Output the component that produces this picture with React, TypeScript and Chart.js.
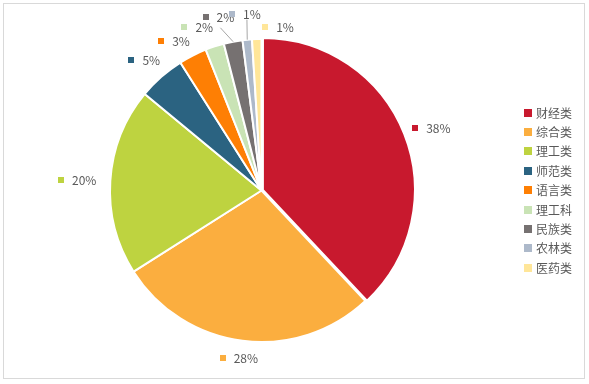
import React, { useEffect, useRef } from "react";
import { Chart, registerables } from "chart.js";

Chart.register(...registerables);

const categories = ["财经类", "综合类", "理工类", "师范类", "语言类", "理工科", "民族类", "农林类", "医药类"];
const values = [38, 28, 20, 5, 3, 2, 2, 1, 1];
const pctLabels = ["38%", "28%", "20%", "5%", "3%", "2%", "2%", "1%", "1%"];
const colors = ["#C8192E", "#FBAE3F", "#BED340", "#2B6381", "#FE7F04", "#C9E3B5", "#767171", "#ADB9CA", "#FFE699"];

// label placement tweaks (degrees / px)
const labelAngleNudge = [0, 0, 0, 1, -2, -2.5, -2.5, 0.3, 7.3];
const labelDistNudge = [0, -2, 2, 1.5, 1, 4, 8, 7, -6.5];
const leaderLine = [false, false, false, false, false, false, true, true, false];

const FONT = '"Microsoft YaHei", "Noto Sans CJK SC", "Noto Sans", sans-serif';
const TEXT_COLOR = "#595959";

const labelPlugin = {
  id: "excelLabels",
  afterDraw(chart: any) {
    const ctx = chart.ctx;
    const meta = chart.getDatasetMeta(0);
    ctx.save();
    ctx.font = `12px ${FONT}`;
    ctx.textBaseline = "middle";
    meta.data.forEach((arc: any, i: number) => {
      const { x, y, startAngle, endAngle, outerRadius } = arc.getProps(
        ["x", "y", "startAngle", "endAngle", "outerRadius"],
        true
      );
      const mid = (startAngle + endAngle) / 2;
      const a = mid + (labelAngleNudge[i] * Math.PI) / 180;
      const text = pctLabels[i];
      const tw = ctx.measureText(text).width;
      const marker = 6;
      const gapMT = 8;
      const w = marker + gapMT + tw;
      const h = 14;
      const k = outerRadius + 12 + labelDistNudge[i];
      const cx = x + k * Math.cos(a) + (w / 2) * Math.cos(a);
      const cy = y + k * Math.sin(a) + (h / 2) * Math.sin(a);
      const left = cx - w / 2;
      if (leaderLine[i]) {
        ctx.strokeStyle = "#A6A6A6";
        ctx.lineWidth = 1;
        ctx.beginPath();
        ctx.moveTo(cx + 2, cy + (i === 6 ? 11 : 6));
        ctx.lineTo(x + outerRadius * Math.cos(mid), y + outerRadius * Math.sin(mid));
        ctx.stroke();
      }
      ctx.fillStyle = colors[i];
      ctx.fillRect(Math.round(left), Math.round(cy - marker / 2), marker, marker);
      ctx.fillStyle = TEXT_COLOR;
      ctx.textAlign = "left";
      ctx.fillText(text, left + marker + gapMT, cy + 0.5);
    });

    // legend
    const lx = 524;
    const ly0 = 112.5;
    const step = 19.4;
    categories.forEach((c, i) => {
      const cy = ly0 + i * step;
      ctx.fillStyle = colors[i];
      ctx.fillRect(lx, Math.round(cy - 4), 8, 8);
      ctx.fillStyle = TEXT_COLOR;
      ctx.textAlign = "left";
      ctx.fillText(c, lx + 12, cy + 0.5);
    });
    ctx.restore();
  },
};

export default function App() {
  const ref = useRef<HTMLCanvasElement | null>(null);
  useEffect(() => {
    if (!ref.current) return;
    const chart = new Chart(ref.current, {
      type: "pie",
      data: {
        labels: categories,
        datasets: [
          {
            data: values,
            backgroundColor: colors,
            borderColor: "#ffffff",
            borderWidth: 2,
            offset: values.map((_, i) => (i === 0 ? 6 : 0)),
          },
        ],
      },
      options: {
        responsive: false,
        animation: false,
        layout: { padding: { left: 106, top: 35, right: 172, bottom: 38 } },
        plugins: {
          legend: { display: false },
          tooltip: { enabled: false },
        },
      },
      plugins: [labelPlugin],
    });
    return () => chart.destroy();
  }, []);

  return (
    <div style={{ position: "absolute", left: 0, top: 0, width: 589, height: 384, background: "#fff" }}>
      <div
        style={{
          position: "absolute",
          left: 3,
          top: 3,
          width: 582,
          height: 376,
          border: "1px solid #D9D9D9",
          boxSizing: "border-box",
        }}
      />
      <canvas ref={ref} width={589} height={384} style={{ position: "absolute", left: 0, top: 0 }} />
    </div>
  );
}
